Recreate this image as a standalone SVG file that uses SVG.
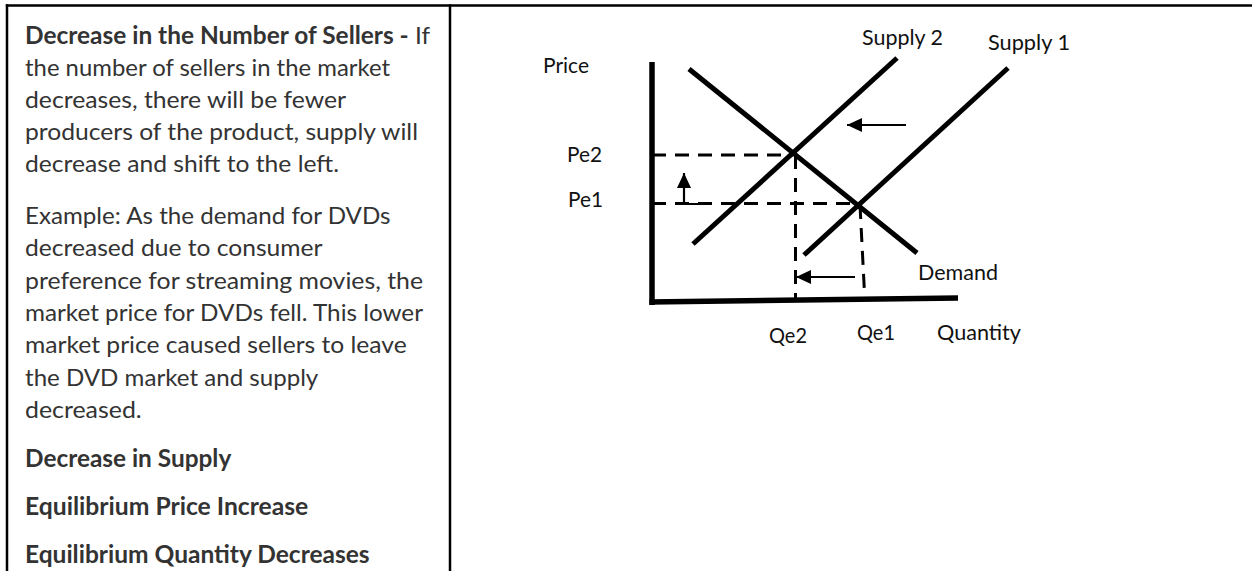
<svg xmlns="http://www.w3.org/2000/svg" width="1252" height="571" viewBox="0 0 1252 571">
<style>
.frame{stroke:#000;stroke-width:2.5;fill:none}
.body{font-family:Lato,"Open Sans",sans-serif;font-size:24px;fill:#333}
.b{font-weight:bold}
.lbl{font-family:Lato,"Open Sans",sans-serif;font-size:21.5px;fill:#111}
.axis{stroke:#000;stroke-width:5.5;fill:none}
.curve{stroke:#000;stroke-width:5;fill:none}
.dash{stroke:#000;stroke-width:3;fill:none;stroke-dasharray:14 9}
.arr{stroke:#000;stroke-width:2.2;fill:none}
</style>
<defs>
<marker id="ah" markerUnits="userSpaceOnUse" markerWidth="16" markerHeight="14" refX="15" refY="7" orient="auto">
<path d="M0,0 L15,7 L0,14 Z" fill="#000"/>
</marker>
</defs>
<rect width="1252" height="571" fill="#fff"/>
<g id="frame">
<line class="frame" x1="5.8" y1="5.5" x2="1252" y2="5.5"/>
<line class="frame" x1="7" y1="4.3" x2="7" y2="571"/>
<line class="frame" x1="450" y1="4.3" x2="450" y2="571"/>
</g>
<g id="left-text" class="body">
<text x="25" y="44" textLength="405" lengthAdjust="spacingAndGlyphs"><tspan class="b">Decrease in the Number of Sellers -</tspan> If</text>
<text x="25" y="76" textLength="365" lengthAdjust="spacingAndGlyphs">the number of sellers in the market</text>
<text x="25" y="108" textLength="321" lengthAdjust="spacingAndGlyphs">decreases, there will be fewer</text>
<text x="25" y="140" textLength="393" lengthAdjust="spacingAndGlyphs">producers of the product, supply will</text>
<text x="25" y="172" textLength="314" lengthAdjust="spacingAndGlyphs">decrease and shift to the left.</text>
<text x="25" y="224" textLength="365.5" lengthAdjust="spacingAndGlyphs">Example: As the demand for DVDs</text>
<text x="25" y="256" textLength="297.5" lengthAdjust="spacingAndGlyphs">decreased due to consumer</text>
<text x="25" y="288.5" textLength="398" lengthAdjust="spacingAndGlyphs">preference for streaming movies, the</text>
<text x="25" y="321" textLength="398" lengthAdjust="spacingAndGlyphs">market price for DVDs fell. This lower</text>
<text x="25" y="353" textLength="381.7" lengthAdjust="spacingAndGlyphs">market price caused sellers to leave</text>
<text x="25" y="385.5" textLength="293.3" lengthAdjust="spacingAndGlyphs">the DVD market and supply</text>
<text x="25" y="418" textLength="116.7" lengthAdjust="spacingAndGlyphs">decreased.</text>
<text class="b" x="25" y="467" textLength="206.3" lengthAdjust="spacingAndGlyphs">Decrease in Supply</text>
<text class="b" x="25" y="515" textLength="283.3" lengthAdjust="spacingAndGlyphs">Equilibrium Price Increase</text>
<text class="b" x="25" y="563" textLength="344.6" lengthAdjust="spacingAndGlyphs">Equilibrium Quantity Decreases</text>
</g>
<g id="axes">
<line class="axis" x1="652" y1="62" x2="652" y2="305"/>
<line class="axis" x1="649.5" y1="302" x2="958" y2="298"/>
</g>
<g id="guides">
<line class="dash" x1="652" y1="155" x2="793" y2="155"/>
<line class="dash" x1="652" y1="203.5" x2="858" y2="203.5"/>
<line class="dash" x1="795.5" y1="155" x2="795.5" y2="301"/>
<line class="dash" x1="860" y1="205" x2="864.5" y2="293"/>
</g>
<g id="connectors">
<g id="demand"><line class="curve" x1="689" y1="69" x2="917" y2="253"/></g>
<g id="supply2"><line class="curve" x1="693" y1="244" x2="897" y2="58"/></g>
<g id="supply1"><line class="curve" x1="804" y1="255" x2="1008" y2="68"/></g>
<line class="arr" x1="906" y1="125" x2="847" y2="125" marker-end="url(#ah)"/>
<path class="arr" d="M698,204 L684,204 L684,173" marker-end="url(#ah)"/>
<line class="arr" x1="855" y1="277" x2="796" y2="277" marker-end="url(#ah)"/>
</g>
<g id="labels" class="lbl">
<text x="543" y="73" textLength="46" lengthAdjust="spacingAndGlyphs">Price</text>
<text x="567" y="162" textLength="35" lengthAdjust="spacingAndGlyphs">Pe2</text>
<text x="568" y="207" textLength="35" lengthAdjust="spacingAndGlyphs">Pe1</text>
<text x="862" y="45" textLength="81" lengthAdjust="spacingAndGlyphs">Supply 2</text>
<text x="988" y="50" textLength="82" lengthAdjust="spacingAndGlyphs">Supply 1</text>
<text x="918" y="280" textLength="80" lengthAdjust="spacingAndGlyphs">Demand</text>
<text x="769" y="343" textLength="38" lengthAdjust="spacingAndGlyphs">Qe2</text>
<text x="857" y="340" textLength="38" lengthAdjust="spacingAndGlyphs">Qe1</text>
<text x="937" y="340" textLength="84" lengthAdjust="spacingAndGlyphs">Quantity</text>
</g>
</svg>
